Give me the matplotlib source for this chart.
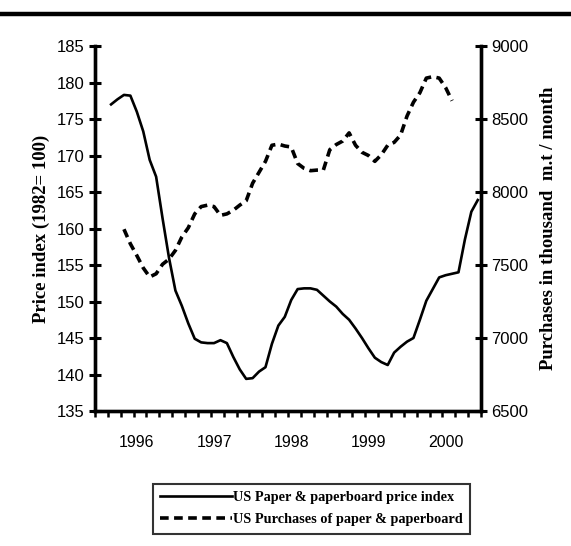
import matplotlib
matplotlib.use("Agg")
import matplotlib.pyplot as plt
from matplotlib.lines import Line2D
import numpy as np

# ---- data (monthly, month index relative to Jan 1996) ----
price_months = list(range(-4, 54))
price_index = [177.0, 177.7, 178.3, 178.2, 176.0, 173.3, 169.4, 167.1, 161.4, 156.0,
               151.5, 149.4, 147.0, 144.9, 144.4, 144.3, 144.3, 144.7, 144.3, 142.4,
               140.7, 139.4, 139.5, 140.4, 141.0, 144.2, 146.7, 147.9, 150.2, 151.7,
               151.8, 151.8, 151.6, 150.8, 150.0, 149.3, 148.3, 147.5, 146.3, 145.0,
               143.6, 142.3, 141.7, 141.3, 143.0, 143.8, 144.5, 145.0, 147.5, 150.1,
               151.7, 153.3, 153.6, 153.8, 154.0, 158.5, 162.3, 163.9]

purch_months = list(range(-2, 50))
purchases = [7745, 7645, 7565, 7480, 7418, 7440, 7505, 7540, 7600, 7692,
             7755, 7850, 7900, 7910, 7900, 7840, 7850, 7875, 7910, 7940,
             8060, 8135, 8210, 8320, 8328, 8315, 8308, 8195, 8162, 8146,
             8150, 8151, 8290, 8325, 8349, 8405, 8320, 8272, 8250, 8210,
             8255, 8320, 8340, 8390, 8520, 8615, 8680, 8780, 8790, 8780,
             8715, 8625]

years = [1996, 1997, 1998, 1999, 2000]
left_ticks = [135, 140, 145, 150, 155, 160, 165, 170, 175, 180, 185]
right_ticks = [6500, 7000, 7500, 8000, 8500, 9000]

label_price = "US Paper & paperboard price index"
label_purch = "US Purchases of paper & paperboard"

# ---- figure ----
W, H = 571, 546
fig = plt.figure(figsize=(W / 100, H / 100), dpi=100)
fig.patch.set_facecolor("white")

# decorative top rule
fig.add_artist(Line2D([0, 1], [1 - 13.5 / H, 1 - 13.5 / H], color="black",
                      linewidth=3.2, transform=fig.transFigure))

x0, x1 = 95 / W, 481 / W
y0, y1 = 1 - 411 / H, 1 - 46 / H
ax = fig.add_axes([x0, y0, x1 - x0, y1 - y0])
ax2 = ax.twinx()

def to_year(m):
    return 1996 + np.asarray(m) / 12.0

serif = "Liberation Serif"
sans = "Liberation Sans"

ax.plot(to_year(price_months), price_index, color="black", linewidth=1.9,
        solid_joinstyle="round", label=label_price)
ax2.plot(to_year(purch_months), purchases, color="black", linewidth=2.6,
         dashes=(2.4, 1.5), label=label_purch)

xmin = 1996 - 6.5 / 12
xmax = xmin + 5.0
ax.set_xlim(xmin, xmax)
ax.set_ylim(135, 185)
ax2.set_ylim(6500, 9000)

# x ticks: small marks every two months, year labels
ax.set_xticks(xmin + np.arange(0, 31) / 6.0)
ax.set_xticklabels([])
ax.set_xticks([float(y) for y in years], minor=True)
ax.set_xticklabels([str(y) for y in years], minor=True)
ax.tick_params(axis="x", which="major", direction="out", length=4, width=1.8)
ax.tick_params(axis="x", which="minor", length=0, pad=17, labelsize=11.5)

ax.set_yticks(left_ticks)
ax.set_yticklabels([str(t) for t in left_ticks])
ax2.set_yticks(right_ticks)
ax2.set_yticklabels([str(t) for t in right_ticks])
ax.tick_params(axis="y", direction="inout", length=9, width=2.2,
               labelsize=12, pad=3)
ax2.tick_params(axis="y", direction="inout", length=9, width=2.2,
                labelsize=12, pad=3)
for a in (ax, ax2):
    for lbl in a.get_yticklabels() + a.get_xticklabels(minor=True):
        lbl.set_family(sans)

for a in (ax, ax2):
    a.spines["top"].set_visible(False)
    for s in ("left", "right", "bottom"):
        a.spines[s].set_linewidth(2.4)

ax.set_ylabel("Price index (1982= 100)", fontfamily=serif, fontweight="bold",
              fontsize=13.5, labelpad=5)
ax2.set_ylabel("Purchases in thousand  m.t / month", fontfamily=serif,
               fontweight="bold", fontsize=13.5, labelpad=8)

handles = [Line2D([], [], color="black", linewidth=1.9),
           Line2D([], [], color="black", linewidth=2.6, dashes=(2.4, 1.5))]
leg = fig.legend(handles, [label_price, label_purch],
                 loc="upper left", bbox_to_anchor=(153 / W, 1 - 484 / H),
                 frameon=True, fancybox=False, handlelength=5.0,
                 handletextpad=0.1, borderpad=0.5, labelspacing=0.65,
                 borderaxespad=0,
                 prop={"family": serif, "weight": "bold", "size": 10.3})
leg.get_frame().set_edgecolor("black")
leg.get_frame().set_linewidth(1.5)

fig.savefig("out.png", dpi=100, facecolor="white")
